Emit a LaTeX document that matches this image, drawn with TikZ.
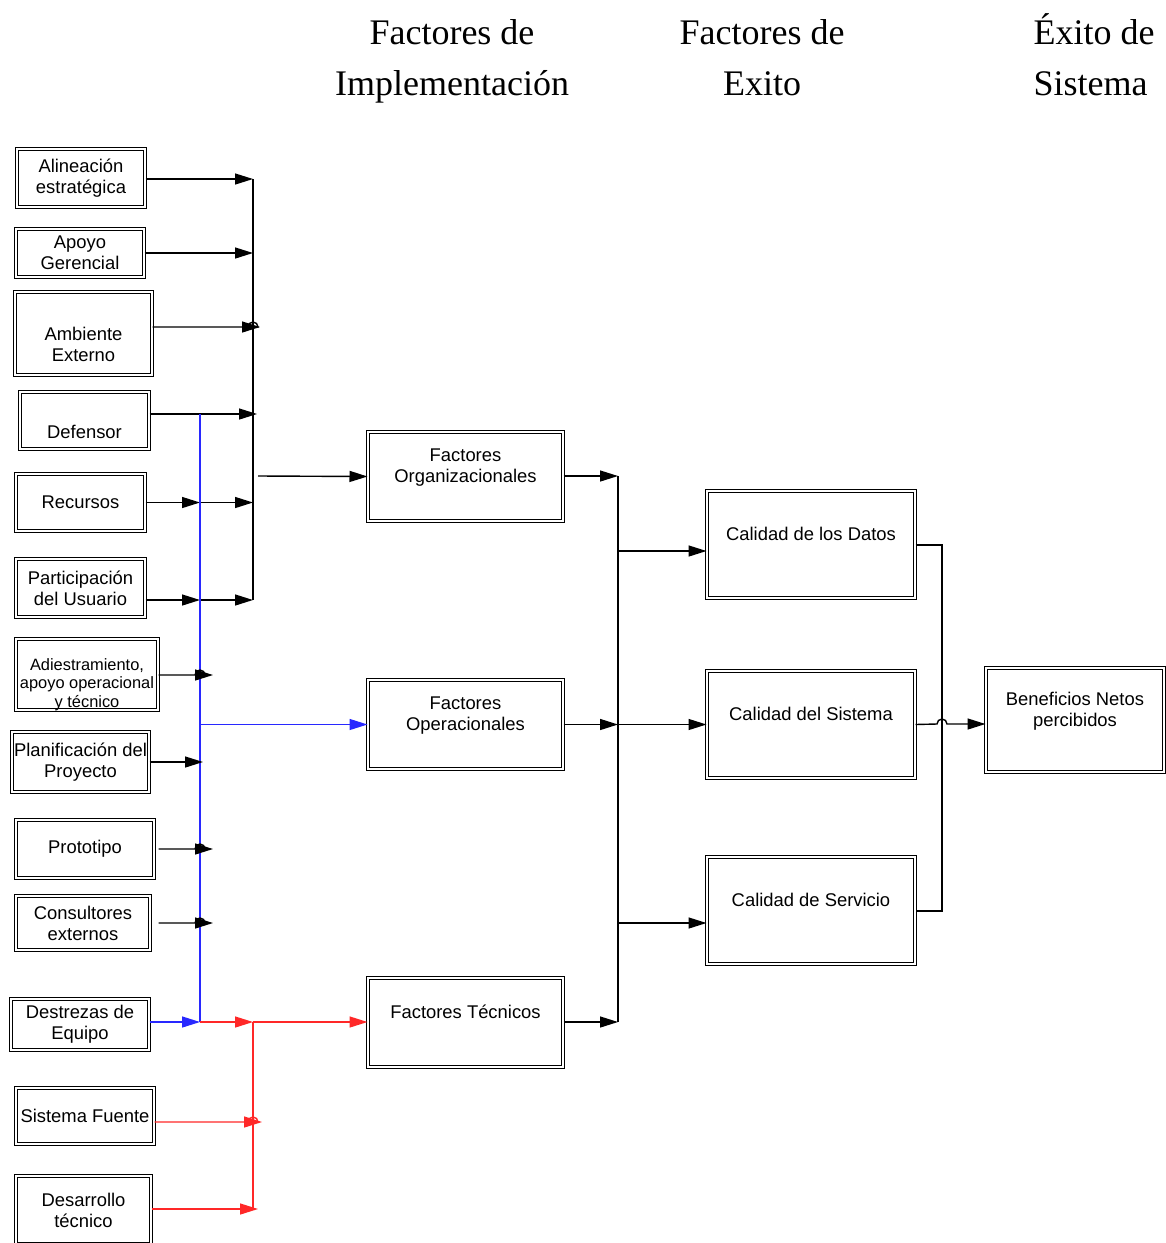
\documentclass[tikz,border=0pt]{standalone}
\usepackage{fontspec}
\usepackage{tikz}
\usetikzlibrary{arrows.meta}
\newfontfamily\boxfont{Liberation Sans}
\newfontfamily\headfont{Liberation Serif}
\definecolor{bline}{RGB}{40,40,255}
\definecolor{rline}{RGB}{255,40,40}

\begin{document}
\begin{tikzpicture}[x=0.5pt, y=-0.5pt, line width=0.7pt,
        every node/.style={font=\boxfont\fontsize{9.2}{10.5}\selectfont},
        box/.style 2 args={rectangle, draw, double, double distance=1pt, line width=0.5pt, inner sep=0pt, align=center, minimum width=#1pt, minimum height=#2pt},
        head/.style={font=\headfont\fontsize{18}{25.5}\selectfont, inner sep=0pt},
        arr/.style={-{Triangle[length=9pt, width=5.5pt]}},
        bl/.style={draw=bline, color=bline},
        rl/.style={draw=rline, color=rline}
    ]
%
    \useasboundingbox (0,0) rectangle (1166,1243);
%
    % Titles
    \node[head, align=center, anchor=base] (himpl) at (452,95) {Factores de\\Implementación};
    \node[head, align=center, anchor=base] (hexito) at (762,95) {Factores de\\Exito};
    \node[head, align=left, anchor=base west] (hsist) at (1033,95) {Éxito de\\Sistema};
%
    % Implementation factors
    \node[box={64}{29}] (alin) at (81,178) {Alineación\\estratégica};
    \node[box={64}{24}] (apoyo) at (80,253) {Apoyo\\Gerencial};
    \node[box={68.5}{41.5}] (amb) at (83.5,333.5) {\strut\\Ambiente\\Externo};
    \node[box={64.5}{28.5}] (def) at (84.5,420.5) {\strut\\Defensor};
    \node[box={64.5}{28.5}] (rec) at (80.5,502.5) {Recursos};
    \node[box={64.5}{29}] (part) at (80.5,588) {Participación\\del Usuario};
    \node[box={71}{32.5}, font=\boxfont\fontsize{8.2}{9.25}\selectfont] (adi) at (87,674.5) {\strut\\Adiestramiento,\\apoyo operacional\\y técnico};
    \node[box={68.5}{30}] (plan) at (80.5,762) {Planificación del\\Proyecto};
    \node[box={69}{29}] (proto) at (85,849) {Prototipo};
    \node[box={67}{27}] (cons) at (83,923) {Consultores\\externos};
    \node[box={69}{25.5}] (dest) at (80,1024.5) {Destrezas de\\Equipo};
    \node[box={69}{28}] (sfte) at (85,1116) {Sistema Fuente};
    \node[box={67.5}{34}] (desa) at (83.5,1210) {Desarrollo\\técnico};
%
    % Grouped factors
    \node[box={97.5}{44.5}] (org) at (465.5,476.5) {Factores\\Organizacionales\\\mbox{}};
    \node[box={97.5}{44.5}] (oper) at (465.5,724.5) {Factores\\Operacionales\\\mbox{}};
    \node[box={97.5}{44.5}] (tec) at (465.5,1022.5) {Factores Técnicos\\\mbox{}};
%
    % Success factors
    \node[box={104}{53.5}] (datos) at (811,544.5) {Calidad de los Datos\\\mbox{}};
    \node[box={104}{53.5}] (sist) at (811,724.5) {Calidad del Sistema\\\mbox{}};
    \node[box={104}{53.5}] (serv) at (811,910.5) {Calidad de Servicio\\\mbox{}};
    \node[box={89}{52}] (ben) at (1075,720) {Beneficios Netos\\percibidos\\\mbox{}};
%
    % Bus points
    \coordinate (busL) at (253,179);
    \coordinate (busLb) at (253,600);
    \coordinate (busB) at (200,414);
    \coordinate (busBb) at (200,1022);
    \coordinate (busR) at (253,1022);
    \coordinate (busRb) at (253,1209);
    \coordinate (busM) at (618,476);
    \coordinate (busMb) at (618,1022);
    \coordinate (busE) at (942,545);
    \coordinate (busEb) at (942,911);
%
    % Organizational inputs
    \draw (busL) -- (busLb);
    \draw[arr] (alin.east |- busL) -- (busL);
    \draw[arr] (apoyo.east) -- (apoyo.east -| busL);
    \draw[arr] (amb.east |- 0,327) -- (248,327) arc[start angle=180, end angle=0, radius=2.5pt] -- (260,327);
    \draw[arr] (def.east |- busB) -- (257,414);
    \draw[arr] (rec.east) -- (rec.east -| busB);
    \draw[arr] (rec.east -| busB) -- (rec.east -| busL);
    \draw[arr] (part.east |- busLb) -- (busB |- busLb);
    \draw[arr] (busB |- busLb) -- (busLb);
    \draw[arr] (258,476) -- (org.west);
%
    % Operational inputs
    \draw[bl] (busB) -- (busBb);
    \draw[bl, arr] (busB |- oper.west) -- (oper.west);
    \draw[arr] (adi.east |- 0,675) -- (195,675) arc[start angle=180, end angle=0, radius=2.5pt] -- (213,675);
    \draw[arr] (plan.east) -- (203,762);
    \draw[arr] ([xshift=2pt]proto.east) -- (195,849) arc[start angle=180, end angle=0, radius=2.5pt] -- (213,849);
    \draw[arr] ([xshift=4pt]cons.east) -- (195,923) arc[start angle=180, end angle=0, radius=2.5pt] -- (213,923);
    \draw[bl, arr] (dest.east |- busBb) -- (busBb);
%
    % Technical inputs
    \draw[rl, arr] (busBb) -- (busR);
    \draw[rl, arr] (busR) -- (tec.west |- busR);
    \draw[rl] (busR) -- (busRb);
    \draw[rl, arr] (sfte.east |- 0,1122) -- (248,1122) arc[start angle=180, end angle=0, radius=2.5pt] -- (262,1122);
    \draw[rl, arr] (desa.east |- busRb) -- (258,1209);
%
    % Success factors
    \draw (busM) -- (busMb);
    \draw[arr] (org.east |- busM) -- (busM);
    \draw[arr] (oper.east) -- (oper.east -| busM);
    \draw[arr] (tec.east |- busMb) -- (busMb);
    \draw[arr] (busM |- 0,551) -- (datos.west |- 0,551);
    \draw[arr] (busM |- sist.west) -- (sist.west);
    \draw[arr] (busM |- 0,923) -- (serv.west |- 0,923);
%
    % System success
    \draw (datos.east |- busE) -- (busE) -- (busEb) -- (serv.east |- busEb);
    \draw[arr] (sist.east) -- (937,724) arc[start angle=180, end angle=0, radius=2.5pt] -- (ben.west |- 0,724);
%
\end{tikzpicture}
\end{document}
